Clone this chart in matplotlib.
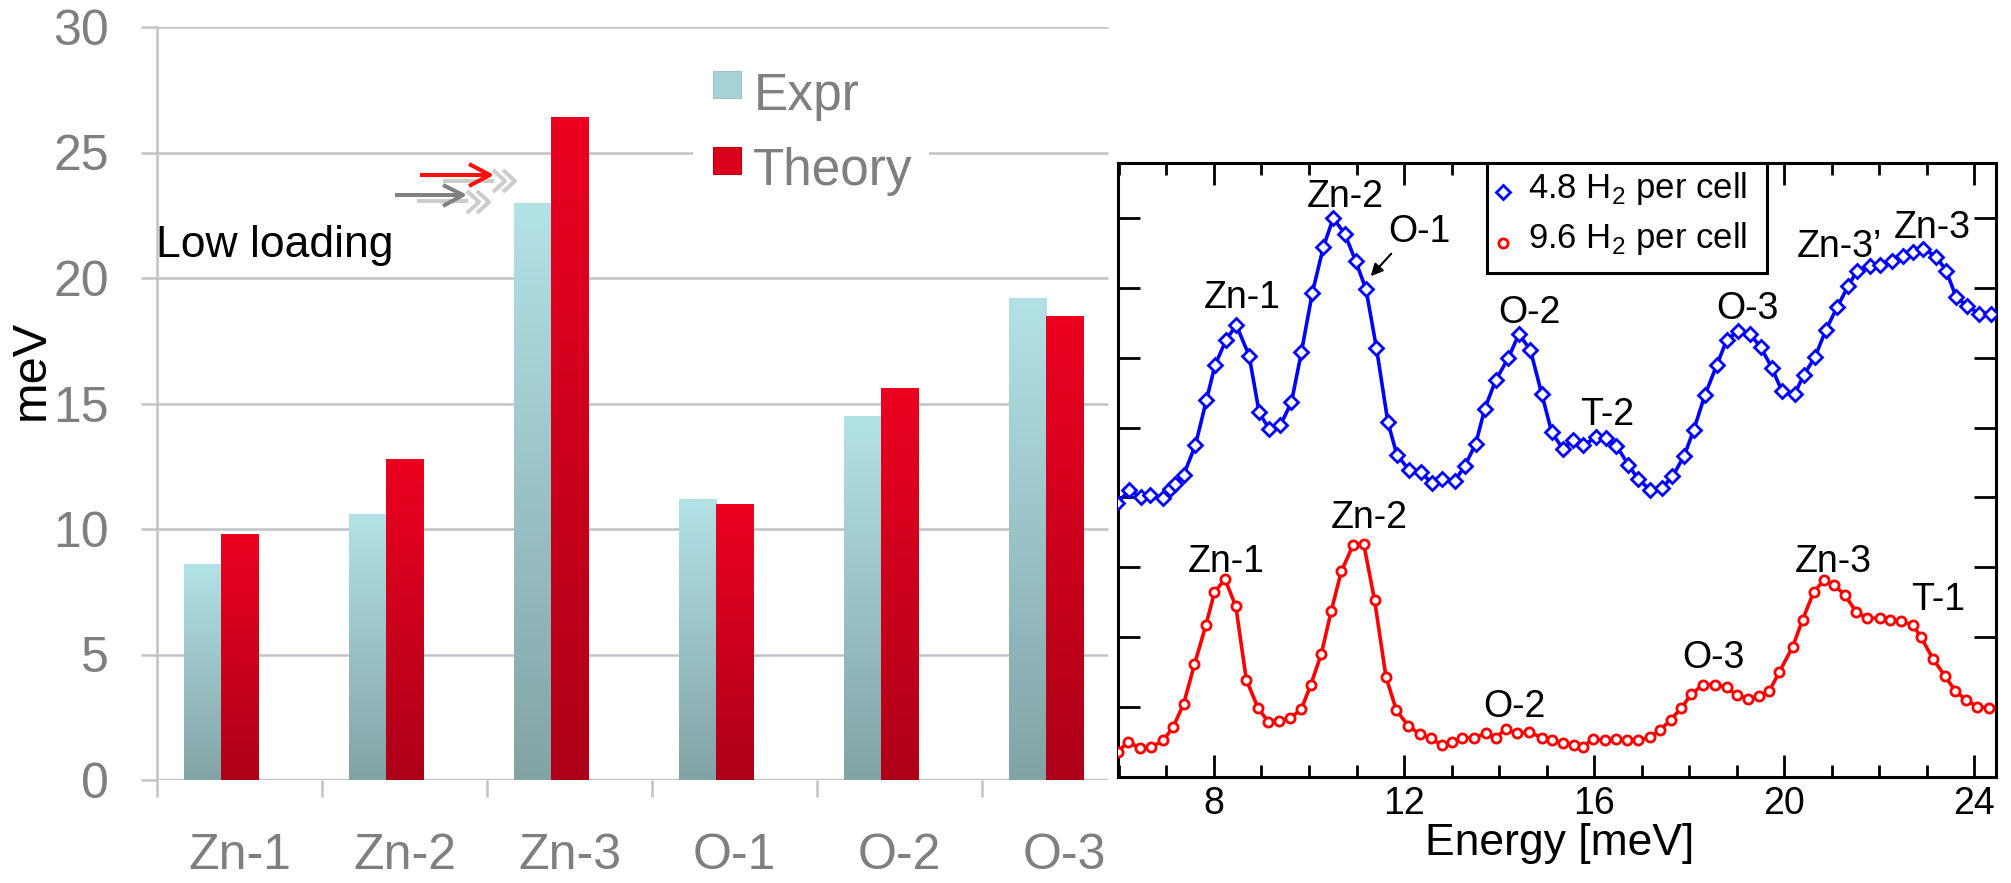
import numpy as np
import matplotlib
matplotlib.use("Agg")
import matplotlib.pyplot as plt
from matplotlib.lines import Line2D
from matplotlib.patches import Rectangle

plt.rcParams['font.family'] = ['Liberation Sans', 'DejaVu Sans']
plt.rcParams['mathtext.fontset'] = 'custom'
plt.rcParams['mathtext.rm'] = 'Liberation Sans'

W, H = 2011, 883

# ---- left chart data (meV)
sites = ["Zn-1", "Zn-2", "Zn-3", "O-1", "O-2", "O-3"]
expr = [8.6, 10.6, 23.0, 11.2, 14.5, 19.2]
theory = [9.8, 12.8, 26.4, 11.0, 15.6, 18.5]
bar_ticks = [0, 5, 10, 15, 20, 25, 30]

# ---- right chart data: energy [meV], intensity (arb.)
blue_e = [5.96, 6.22, 6.47, 6.66, 6.93, 7.07, 7.17, 7.36, 7.61, 7.84, 8.02, 8.25, 8.47, 8.74,
          8.95, 9.16, 9.40, 9.63, 9.84, 10.07, 10.30, 10.51, 10.75, 10.98, 11.20, 11.42, 11.66,
          11.85, 12.10, 12.35, 12.58, 12.79, 13.07, 13.28, 13.51, 13.70, 13.93, 14.19, 14.42,
          14.66, 14.90, 15.11, 15.34, 15.56, 15.77, 16.05, 16.26, 16.47, 16.72, 16.93, 17.18,
          17.42, 17.65, 17.90, 18.10, 18.33, 18.58, 18.79, 19.04, 19.28, 19.51, 19.74, 19.95,
          20.22, 20.42, 20.65, 20.88, 21.12, 21.35, 21.54, 21.80, 22.02, 22.27, 22.50, 22.72,
          22.93, 23.20, 23.41, 23.62, 23.86, 24.11, 24.35]
blue_i = [3.92, 4.10, 4.00, 4.04, 3.99, 4.12, 4.19, 4.32, 4.75, 5.39, 5.89, 6.25, 6.47, 6.03,
          5.22, 4.98, 5.04, 5.36, 6.08, 6.93, 7.58, 8.00, 7.78, 7.39, 6.98, 6.14, 5.08,
          4.61, 4.40, 4.36, 4.21, 4.26, 4.24, 4.45, 4.77, 5.27, 5.68, 5.99, 6.34,
          6.11, 5.48, 4.93, 4.70, 4.82, 4.75, 4.86, 4.85, 4.74, 4.47, 4.26, 4.11,
          4.13, 4.30, 4.60, 4.97, 5.46, 5.89, 6.25, 6.39, 6.34, 6.15, 5.86, 5.53,
          5.48, 5.76, 6.01, 6.40, 6.73, 7.03, 7.25, 7.31, 7.33, 7.39, 7.46, 7.51,
          7.56, 7.45, 7.25, 6.87, 6.74, 6.63, 6.63]

red_e = [5.98, 6.19, 6.44, 6.68, 6.93, 7.14, 7.36, 7.59, 7.83, 8.01, 8.23, 8.46, 8.68, 8.93,
         9.14, 9.37, 9.61, 9.84, 10.04, 10.26, 10.47, 10.68, 10.93, 11.15, 11.38, 11.62, 11.84,
         12.09, 12.33, 12.56, 12.81, 13.02, 13.23, 13.47, 13.72, 13.93, 14.14, 14.38, 14.63,
         14.90, 15.11, 15.35, 15.58, 15.77, 15.98, 16.23, 16.46, 16.69, 16.93, 17.18, 17.39,
         17.61, 17.84, 18.05, 18.29, 18.55, 18.79, 19.00, 19.23, 19.48, 19.69, 19.90, 20.18,
         20.39, 20.62, 20.84, 21.05, 21.28, 21.52, 21.75, 22.01, 22.23, 22.46, 22.71, 22.88,
         23.14, 23.39, 23.60, 23.83, 24.07, 24.32]
red_i = [0.36, 0.50, 0.41, 0.42, 0.52, 0.71, 1.04, 1.61, 2.17, 2.64, 2.83, 2.44, 1.39, 0.98,
         0.79, 0.80, 0.84, 0.97, 1.32, 1.76, 2.38, 2.94, 3.32, 3.34, 2.53, 1.43, 0.95,
         0.73, 0.61, 0.55, 0.45, 0.49, 0.55, 0.56, 0.62, 0.56, 0.68, 0.62, 0.64,
         0.56, 0.52, 0.48, 0.45, 0.43, 0.54, 0.52, 0.54, 0.52, 0.52, 0.57, 0.67,
         0.81, 0.99, 1.18, 1.32, 1.32, 1.28, 1.17, 1.12, 1.15, 1.23, 1.50, 1.86,
         2.25, 2.64, 2.82, 2.75, 2.60, 2.36, 2.27, 2.27, 2.24, 2.23, 2.17, 2.00,
         1.68, 1.44, 1.23, 1.10, 1.00, 0.99]

# peak labels: (text, energy, baseline)
blue_labels = [("Zn-1", 8.60, 6.71), ("Zn-2", 10.77, 8.16), ("O-1", 12.33, 7.66),
               ("O-2", 14.63, 6.50), ("T-2", 16.27, 5.04), ("O-3", 19.22, 6.56),
               ("Zn-3", 23.12, 7.72)]
red_labels = [("Zn-1", 8.25, 2.93), ("Zn-2", 11.26, 3.56), ("O-2", 14.33, 0.855),
              ("O-3", 18.52, 1.56), ("Zn-3", 21.03, 2.93), ("T-1", 23.24, 2.39)]

GRID = '#c2c2c8'
GRAY = '#7f7f7f'


def fx(x):
    return x / W


def fy(y):
    return 1 - y / H


fig = plt.figure(figsize=(W / 100, H / 100), dpi=100)

# ================= left: bar chart
ax = fig.add_axes([157 / W, (H - 780) / H, 990 / W, 753 / H])
ax.set_facecolor('none')
xs = np.arange(len(sites))
bw = 0.227
b1 = ax.bar(xs + 0.276, expr, bw, color='#a9d2d6', zorder=3)
b2 = ax.bar(xs + 0.503, theory, bw, color='#d4001c', zorder=3)


def shade(bars, top, bot):
    top = np.array(matplotlib.colors.to_rgb(top))
    bot = np.array(matplotlib.colors.to_rgb(bot))
    t = np.linspace(0, 1, 200)[:, None, None]
    img = top + (bot - top) * t
    for b in bars:
        x0, y0 = b.get_xy()
        im = ax.imshow(img, extent=[x0, x0 + b.get_width(), y0, y0 + b.get_height()],
                       origin='upper', aspect='auto', zorder=3.5, interpolation='bilinear')
        im.set_clip_path(b)


shade(b1, '#b3e2e6', '#82a3a6')
shade(b2, '#ec0020', '#ad0018')

ax.hlines(bar_ticks[1:], 0, 5.764, color=GRID, lw=1.8, zorder=1)
ax.hlines([0], 0, 5.764, color=GRID, lw=2.4, zorder=1)
ax.set_xlim(0, 6)
ax.set_ylim(0, 30)
for s in ['top', 'right', 'bottom']:
    ax.spines[s].set_visible(False)
ax.spines['left'].set_color(GRID)
ax.spines['left'].set_linewidth(1.8)
ax.set_yticks(bar_ticks)
ax.tick_params(axis='y', length=11.5, width=1.8, color=GRID, labelcolor=GRAY,
               labelsize=36, pad=23)
ax.set_xticks(range(6))
ax.set_xticklabels([])
ax.set_xticks(xs + 0.5, minor=True)
ax.set_xticklabels(sites, minor=True)
ax.tick_params(axis='x', which='major', direction='out', length=12, width=1.8, color=GRID)
ax.tick_params(axis='x', which='minor', length=0, pad=38, labelsize=36, labelcolor=GRAY)

fig.text(31 / W, fy(370), "meV", rotation=90, ha='center', va='center', fontsize=35)
fig.text(fx(156), fy(257), "Low loading", fontsize=32, va='baseline')

# legend of the bar chart
fig.add_artist(Rectangle((fx(693), fy(200)), 236 / W, 142 / H, transform=fig.transFigure,
                         facecolor='white', edgecolor='none', zorder=3))
fig.add_artist(Rectangle((fx(713), fy(98)), 28 / W, 27 / H, transform=fig.transFigure,
                         facecolor='#a7d3d7', edgecolor='#9cc3c7', lw=0.8, zorder=4))
fig.add_artist(Rectangle((fx(713), fy(174)), 28 / W, 27 / H, transform=fig.transFigure,
                         facecolor='#d8001c', edgecolor='#b80018', lw=0.8, zorder=4))
fig.text(fx(754), fy(110), "Expr", fontsize=37, color=GRAY, va='baseline', zorder=4)
fig.text(fx(753), fy(185), "Theory", fontsize=37, color=GRAY, va='baseline', zorder=4)


def fline(px, py, color, lw):
    fig.add_artist(Line2D([fx(p) for p in px], [fy(p) for p in py], color=color, lw=lw,
                          transform=fig.transFigure, zorder=5, solid_capstyle='butt'))


# little arrows next to Zn-3
fline([443, 494], [181, 181], '#cccccc', 2.9)
fline([493, 505, 493], [170, 181, 192], '#cccccc', 2.9)
fline([503, 515, 503], [170, 181, 192], '#cccccc', 2.9)
fline([420, 488], [175, 175], '#ff1010', 2.9)
fline([469, 490, 469], [164, 175, 186], '#ff1010', 2.9)
fline([417, 468], [201, 201], '#cccccc', 2.9)
fline([467, 479, 467], [191, 202, 213], '#cccccc', 2.9)
fline([477, 489, 477], [191, 202, 213], '#cccccc', 2.9)
fline([395, 461], [195, 195], '#808080', 2.9)
fline([443, 463, 443], [185, 195, 206], '#808080', 2.9)

# ================= right: spectra
ax2 = fig.add_axes([1118 / W, (H - 776.7) / H, 878 / W, 613.7 / H])
ax2.set_facecolor('white')
ax2.plot(blue_e, blue_i, color='#0000ff', lw=2.6, marker='D', ms=7.2, mew=2.0,
         mfc='white', mec='#0000ff', zorder=3)
ax2.plot(red_e, red_i, color='#ff0000', lw=2.6, marker='o', ms=6.6, mew=2.0,
         mfc='white', mec='#ff0000', zorder=3)
ax2.set_xlim(5.98, 24.46)
ax2.set_ylim(0, 8.79)
ax2.set_xticks([8, 12, 16, 20, 24])
ax2.set_xticks(np.arange(6, 25), minor=True)
ax2.set_yticks(np.arange(0, 9))
ax2.set_yticklabels([])
ax2.tick_params(axis='both', which='major', direction='in', length=15.8, width=2,
                top=True, right=True, labelsize=27, pad=7)
ax2.tick_params(axis='x', which='minor', direction='in', length=8.6, width=2, top=True)
for s in ax2.spines.values():
    s.set_linewidth(2.2)

for txt, x, y in blue_labels + red_labels:
    ax2.text(x, y, txt, fontsize=27, ha='center', va='baseline', zorder=4)
ax2.text(20.27, 7.45, "Zn-3\u2019", fontsize=27, ha='left', va='baseline', zorder=4)
ax2.annotate("", xy=(11.26, 7.14), xytext=(11.77, 7.52),
             arrowprops=dict(arrowstyle='-|>', color='black', lw=1.5, mutation_scale=18))

fig.text(fx(1560), fy(855), "Energy [meV]", fontsize=32, ha='center', va='baseline')

# legend of the spectra
ax2.add_patch(Rectangle((0.4203, 0.8208), 0.3189, 0.18, transform=ax2.transAxes,
                        facecolor='white', edgecolor='black', lw=2.2, zorder=5))
ax2.add_line(Line2D([0.4385], [0.9528], marker='D', ms=7.2, mew=2.0, mfc='white',
                    mec='#0000ff', transform=ax2.transAxes, zorder=6))
ax2.add_line(Line2D([0.4385], [0.8697], marker='o', ms=6.6, mew=2.0, mfc='white',
                    mec='#ff0000', transform=ax2.transAxes, zorder=6))
ax2.text(0.467, 0.943, r"4.8 H$_{\mathrm{2}}$ per cell", transform=ax2.transAxes,
         fontsize=25, va='baseline', zorder=6)
ax2.text(0.467, 0.8616, r"9.6 H$_{\mathrm{2}}$ per cell", transform=ax2.transAxes,
         fontsize=25, va='baseline', zorder=6)

fig.savefig("out.png", dpi=100)
